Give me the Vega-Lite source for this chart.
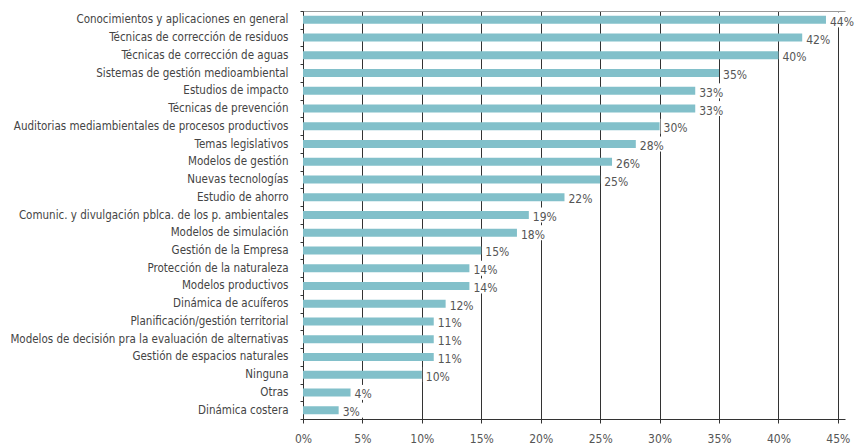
{
  "$schema": "https://vega.github.io/schema/vega-lite/v6.json",
  "width": 542,
  "height": 408,
  "autosize": {"type": "none"},
  "padding": {"left": 303, "top": 11, "right": 12, "bottom": 24},
  "background": "white",
  "config": {"view": {"stroke": null}, "font": "DejaVu Sans Condensed, Roboto, sans-serif"},
  "data": {"values": [
    {"cat": "Conocimientos y aplicaciones en general", "v": 0.44},
    {"cat": "Técnicas de corrección de residuos", "v": 0.42},
    {"cat": "Técnicas de corrección de aguas", "v": 0.40},
    {"cat": "Sistemas de gestión medioambiental", "v": 0.35},
    {"cat": "Estudios de impacto", "v": 0.33},
    {"cat": "Técnicas de prevención", "v": 0.33},
    {"cat": "Auditorias mediambientales de procesos productivos", "v": 0.30},
    {"cat": "Temas legislativos", "v": 0.28},
    {"cat": "Modelos de gestión", "v": 0.26},
    {"cat": "Nuevas tecnologías", "v": 0.25},
    {"cat": "Estudio de ahorro", "v": 0.22},
    {"cat": "Comunic. y divulgación pblca. de los p. ambientales", "v": 0.19},
    {"cat": "Modelos de simulación", "v": 0.18},
    {"cat": "Gestión de la Empresa", "v": 0.15},
    {"cat": "Protección de la naturaleza", "v": 0.14},
    {"cat": "Modelos productivos", "v": 0.14},
    {"cat": "Dinámica de acuíferos", "v": 0.12},
    {"cat": "Planificación/gestión territorial", "v": 0.11},
    {"cat": "Modelos de decisión pra la evaluación de alternativas", "v": 0.11},
    {"cat": "Gestión de espacios naturales", "v": 0.11},
    {"cat": "Ninguna", "v": 0.10},
    {"cat": "Otras", "v": 0.04},
    {"cat": "Dinámica costera", "v": 0.03}
  ]},
  "encoding": {
    "y": {
      "field": "cat", "type": "nominal", "sort": null,
      "scale": {"paddingInner": 0, "paddingOuter": 0},
      "axis": {
        "title": null, "grid": false, "domainColor": "#333", "tickColor": "#333",
        "tickSize": 3, "tickBand": "extent", "labelFontSize": 11.5, "labelColor": "#444",
        "labelPadding": 12, "labelLimit": 400
      }
    }
  },
  "layer": [
    {
      "mark": {"type": "bar", "size": 8, "color": "#82c0ca"},
      "encoding": {
        "x": {
          "field": "v", "type": "quantitative",
          "scale": {"domain": [0, 0.456], "nice": false, "zero": true},
          "axis": {
            "title": null, "values": [0, 0.05, 0.1, 0.15, 0.2, 0.25, 0.3, 0.35, 0.4, 0.45],
            "format": ".0%", "grid": true, "gridColor": "#333", "gridWidth": 1,
            "domainColor": "#333", "tickColor": "#333", "tickSize": 4, "labelPadding": 10,
            "labelFontSize": 12, "labelColor": "#555", "labelFlush": false
          }
        }
      }
    },
    {
      "mark": {"type": "bar", "size": 15, "color": "white", "xOffset": 1, "x2Offset": 30},
      "encoding": {
        "x": {"field": "v", "type": "quantitative", "axis": null},
        "x2": {"field": "v"}
      }
    },
    {
      "mark": {"type": "text", "align": "left", "baseline": "middle", "dx": 4, "dy": 2, "fontSize": 12, "color": "#555"},
      "encoding": {
        "x": {
          "field": "v", "type": "quantitative",
          "axis": {"orient": "top", "title": null, "labels": false, "ticks": false, "grid": false, "domainColor": "#999"}
        },
        "text": {"field": "v", "format": ".0%"}
      }
    }
  ],
  "resolve": {"axis": {"x": "independent"}}
}
